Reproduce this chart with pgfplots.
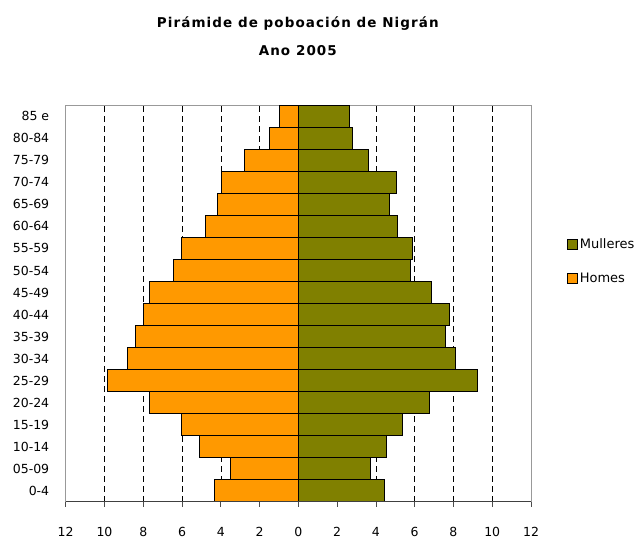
\documentclass[border=0pt]{standalone}
\usepackage{pgfplots}
\usepackage{pgfplotstable}
\pgfplotsset{compat=1.18}
\usepackage{fontspec}
\setmainfont{DejaVu Sans}
\newfontfamily\titlefont[LetterSpace=8]{DejaVu Sans}
\definecolor{homes}{HTML}{FF9900}
\definecolor{mulleres}{HTML}{808000}
\definecolor{frame}{HTML}{999999}

\pgfplotstableread{
age    homes  mulleres
0      4.33   4.42
1      3.48   3.73
2      5.10   4.57
3      6.05   5.35
4      7.66   6.75
5      9.82   9.23
6      8.81   8.13
7      8.42   7.58
8      7.97   7.82
9      7.66   6.89
10     6.42   5.79
11     6.05   5.90
12     4.79   5.10
13     4.18   4.69
14     3.97   5.04
15     2.78   3.64
16     1.47   2.78
17     0.99   2.63
}\pyramid

\begin{document}
\begin{tikzpicture}
\begin{axis}[
    name=ax,
    scale only axis,
    width=465.3bp, height=396.4bp,
    xbar, bar width=1, bar shift=0pt,
    xmin=-12, xmax=12, ymin=-0.5, ymax=17.5,
    xtick={-12,-10,...,12},
    xticklabel={\pgfmathparse{abs(\tick)}\pgfmathprintnumber{\pgfmathresult}},
    /pgf/number format/assume math mode=true,
    every tick label/.append style={font=\fontsize{12.5bp}{15bp}\selectfont},
    xticklabel style={yshift=-17bp},
    ytick={0,...,17},
    yticklabels={0-4,05-09,10-14,15-19,20-24,25-29,30-34,35-39,40-44,45-49,50-54,55-59,60-64,65-69,70-74,75-79,80-84,85 e},
    yticklabel style={xshift=-8bp},
    ytick style={draw=none},
    xtick pos=bottom,
    tick align=outside,
    major tick length=5bp,
    x tick style={black!70, line width=0.8bp},
    axis line style={frame, line width=0.8bp},
    xmajorgrids,
    grid style={black, dash pattern=on 6bp off 4bp, line width=0.6bp},
    title={\textbf{Pirámide de poboación de Nigrán}\\[13bp]\textbf{Ano 2005}},
    title style={at={(axis description cs:0.5,1.158)}, anchor=center, align=center,
        font=\titlefont\fontsize{13.5bp}{15bp}\selectfont},
    legend style={draw=none, fill=none, at={(axis description cs:1.077,0.607)},
        anchor=west, inner sep=0pt, row sep=19bp,
        font=\fontsize{13bp}{15bp}\selectfont,
        /tikz/every even column/.append style={column sep=3bp}},
    legend cell align=left,
    legend image code/.code={\draw[#1, draw=black, line width=0.8bp] (0bp,-5bp) rectangle (10bp,5bp);},
]
\addplot[fill=mulleres, draw=black, line width=1bp] table[x=mulleres, y=age] {\pyramid};
\addlegendentry{Mulleres}
\addplot[fill=homes, draw=black, line width=1bp] table[x expr=-\thisrow{homes}, y=age] {\pyramid};
\addlegendentry{Homes}
\draw[black!75, line width=0.9bp] (rel axis cs:0,0) -- (rel axis cs:1,0);
\end{axis}
\path ([shift={(-65.7bp,-40.3bp)}]ax.south west) rectangle ++(643bp,542bp);
\end{tikzpicture}
\end{document}
